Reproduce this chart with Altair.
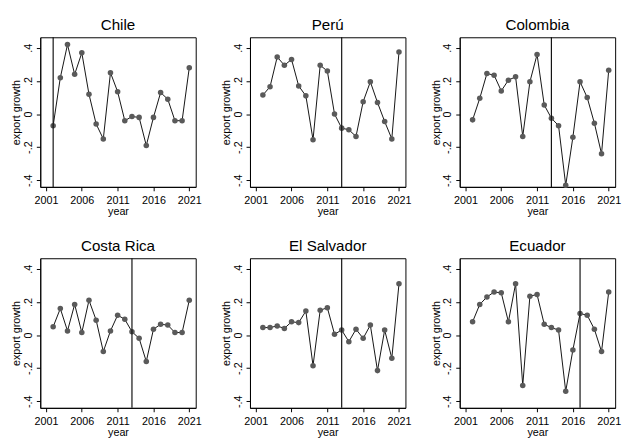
import altair as alt
import pandas as pd

years = list(range(2002, 2022))
countries = ["Chile", "Perú", "Colombia", "Costa Rica", "El Salvador", "Ecuador"]
chile = [-0.07, 0.22, 0.42, 0.24, 0.37, 0.12, -0.06, -0.15, 0.25, 0.135, -0.04, -0.015, -0.02, -0.19, -0.02, 0.13, 0.09, -0.04, -0.04, 0.28]
peru = [0.115, 0.165, 0.345, 0.295, 0.33, 0.17, 0.11, -0.155, 0.295, 0.26, 0.0, -0.085, -0.095, -0.135, 0.075, 0.195, 0.07, -0.045, -0.15, 0.375]
colombia = [-0.035, 0.095, 0.245, 0.235, 0.14, 0.205, 0.225, -0.135, 0.195, 0.36, 0.055, -0.025, -0.07, -0.43, -0.14, 0.195, 0.1, -0.055, -0.24, 0.265]
costa_rica = [0.05, 0.16, 0.025, 0.185, 0.015, 0.21, 0.09, -0.1, 0.025, 0.12, 0.095, 0.02, -0.02, -0.16, 0.035, 0.065, 0.06, 0.015, 0.015, 0.21]
el_salvador = [0.045, 0.045, 0.055, 0.04, 0.08, 0.075, 0.145, -0.185, 0.15, 0.165, 0.005, 0.03, -0.04, 0.035, -0.02, 0.06, -0.215, 0.03, -0.14, 0.31]
ecuador = [0.08, 0.185, 0.23, 0.26, 0.255, 0.08, 0.31, -0.305, 0.235, 0.245, 0.065, 0.045, 0.03, -0.34, -0.09, 0.13, 0.12, 0.035, -0.1, 0.26]
series = [chile, peru, colombia, costa_rica, el_salvador, ecuador]
line_years = [2002, 2013, 2013, 2013, 2013, 2017]
x_ticks = [2001, 2006, 2011, 2016, 2021]
y_ticks = [-0.4, -0.2, 0.0, 0.2, 0.4]

FONT = "Liberation Sans"
xscale = alt.Scale(domain=[2000.2, 2021.9], nice=False, zero=False)
yscale = alt.Scale(domain=[-0.44, 0.464], nice=False, zero=False)
ylabel_expr = "datum.value == 0 ? '0' : (datum.value < 0 ? '-' : '') + replace(format(abs(datum.value), '.1f'), '0.', '.')"
xaxis = alt.Axis(values=x_ticks, format="d", labelFlush=False, labelOverlap=False,
                 titleFontWeight="normal", labelPadding=4, titlePadding=0)
yaxis = alt.Axis(values=y_ticks, labelExpr=ylabel_expr, labelAngle=270, labelOverlap=False,
                 titleFontWeight="normal", labelPadding=3, titlePadding=1)


def panel(name, vals, ly):
    df = pd.DataFrame({"year": years, "growth": vals})
    base = alt.Chart(df)
    x = alt.X("year:Q", scale=xscale, title="year", axis=xaxis)
    y = alt.Y("growth:Q", scale=yscale, title="export growth", axis=yaxis)
    rule = alt.Chart(pd.DataFrame({"year": [ly]})).mark_rule(color="#111111", strokeWidth=1.2).encode(x=x)
    line = base.mark_line(color="#111111", strokeWidth=1).encode(x=x, y=y)
    pts = base.mark_point(filled=True, color="#5a5a5a", size=32, opacity=1).encode(x=x, y=y)
    return alt.layer(line, pts, rule).properties(
        width=159, height=153,
        title=alt.TitleParams(name, fontSize=15.5, font=FONT, fontWeight=400, color="#000", offset=3.5))


panels = [panel(n, s, l) for n, s, l in zip(countries, series, line_years)]
row1 = alt.hconcat(*panels[:3], spacing=17.5)
row2 = alt.hconcat(*panels[3:], spacing=17.5)
chart = alt.vconcat(row1, row2, spacing=21).configure(
    background="white", padding={"left": 2, "top": 4, "right": 0, "bottom": 0}
).configure_view(
    stroke="#000", strokeWidth=1
).configure_title(
    fontWeight="normal", font=FONT
).configure_axis(
    grid=False, domainColor="#000", tickColor="#000", labelColor="#000", titleColor="#000",
    labelFont=FONT, titleFont=FONT, labelFontSize=11, titleFontSize=11, titleFontWeight="normal",
    tickSize=4
)

chart.save("out.html", embed_options={"renderer": "svg", "actions": False})
